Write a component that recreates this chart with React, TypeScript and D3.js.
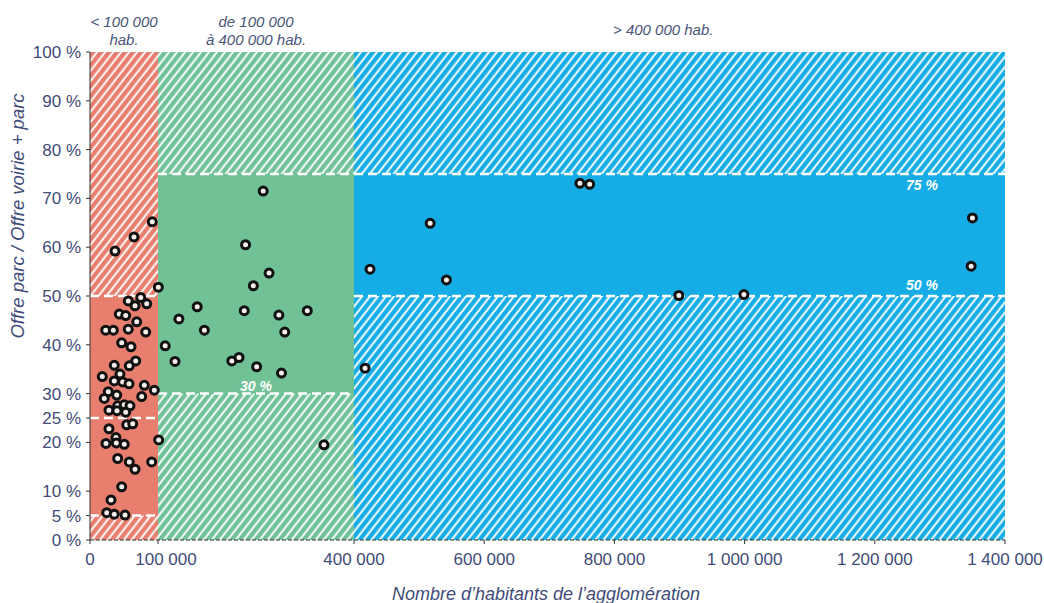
import React from "react";
import * as d3 from "d3";

// ---- Data ----
// population (habitants), share parc / (voirie + parc) in %
const redPoints: [number, number][] = [
  [36800, 59.2], [64700, 62.1], [91600, 65.2], [100500, 51.8],
  [56300, 49.0], [74600, 49.7], [66200, 48.0], [83400, 48.4],
  [43100, 46.3], [52500, 46.0], [68700, 44.7], [23100, 43.0],
  [34300, 43.0], [56300, 43.2], [81900, 42.6], [46600, 40.4],
  [60300, 39.6], [67200, 36.7], [57800, 35.7], [35700, 35.8],
  [18100, 33.5], [44100, 34.0], [35700, 32.6], [48100, 32.4],
  [57400, 32.0], [79900, 31.7], [94600, 30.7], [26900, 30.4],
  [39300, 29.7], [76000, 29.4], [21000, 29.0], [40700, 27.5],
  [50400, 27.7], [58800, 27.5], [27900, 26.6], [39700, 26.5],
  [52500, 26.2], [27900, 22.8], [54000, 23.6], [62800, 23.8],
  [38200, 21.0], [23500, 19.8], [38700, 19.9], [50400, 19.6],
  [101000, 20.5], [40700, 16.7], [57800, 16.0], [66200, 14.5],
  [90700, 16.0], [46600, 10.9], [30900, 8.2], [24600, 5.6],
  [35700, 5.3], [51500, 5.1],
];
const greenPoints: [number, number][] = [
  [261000, 71.5], [234000, 60.5], [270000, 54.7], [246000, 52.1],
  [160000, 47.8], [232000, 47.0], [285000, 46.1], [328500, 47.0],
  [132000, 45.3], [171000, 43.0], [294000, 42.6], [111000, 39.8],
  [126000, 36.6], [213000, 36.7], [224000, 37.4], [251000, 35.5],
  [289000, 34.2], [354000, 19.5],
];
const bluePoints: [number, number][] = [
  [747000, 73.1], [762000, 72.9], [517000, 64.9], [424600, 55.5],
  [542000, 53.3], [417000, 35.2], [899000, 50.1], [999000, 50.3],
  [1350000, 66.0], [1348000, 56.1],
];

// zones: population bounds, solid band [low, high], dashed levels, label
const zoneNames = ["small", "medium", "large"];
const zoneBounds: [number, number][] = [[0, 100000], [100000, 400000], [400000, 1400000]];
const zoneBands: [number, number][] = [[5, 50], [30, 75], [50, 75]];
const zoneDashes: number[][] = [[5, 25, 50], [30, 75], [50, 75]];
const zoneColors = ["#e87e6e", "#70c196", "#16ade6"];
const zoneHeaders: string[][] = [["< 100 000", "hab."], ["de 100 000", "à 400 000 hab."], ["> 400 000 hab."]];
const bandLabels: { zone: number; value: number; text: string }[] = [
  { zone: 1, value: 30, text: "30 %" },
  { zone: 2, value: 75, text: "75 %" },
  { zone: 2, value: 50, text: "50 %" },
];

const yTicks = [0, 5, 10, 20, 25, 30, 40, 50, 60, 70, 80, 90, 100];
const xTicks = [0, 100000, 400000, 600000, 800000, 1000000, 1200000, 1400000];

const yTitle = "Offre parc / Offre voirie + parc";
const xTitle = "Nombre d’habitants de l’agglomération";

export default function App() {
  const W = 1044, H = 603;
  const x = d3.scaleLinear().domain([0, 100000, 400000, 1400000]).range([90, 158, 354, 1005]);
  const y = d3.scaleLinear().domain([0, 100]).range([540, 52]);
  const fmt = (v: number) => d3.format(",")(v).replace(/,/g, " ");
  const textCol = "#3f4b78";
  const font = "'Liberation Sans', Arial, sans-serif";
  const allPoints = [...redPoints, ...greenPoints, ...bluePoints];

  return (
    <svg width={W} height={H} style={{ position: "absolute", left: 0, top: 0, background: "#fff" }} fontFamily={font}>
      <defs>
        {zoneColors.map((c, i) => (
          <pattern key={i} id={`hatch-${i}`} patternUnits="userSpaceOnUse" width={6.3} height={20}
            patternTransform="rotate(38)">
            <rect width={6.3} height={20} fill={c} />
            <line x1={1.5} y1={-2} x2={1.5} y2={22} stroke="#fff" strokeWidth={1.9} />
          </pattern>
        ))}
      </defs>

      {/* zones */}
      {zoneBounds.map(([a, b], i) => {
        const x0 = x(a), x1 = x(b);
        const [lo, hi] = zoneBands[i];
        return (
          <g key={zoneNames[i]}>
            <rect x={x0} y={y(100)} width={x1 - x0} height={y(0) - y(100)} fill={`url(#hatch-${i})`} />
            <rect x={x0} y={y(hi)} width={x1 - x0} height={y(lo) - y(hi)} fill={zoneColors[i]} />
            {zoneDashes[i].map((v) => (
              <line key={v} x1={x0} x2={x1} y1={y(v)} y2={y(v)} stroke="#fff" strokeWidth={2.5}
                strokeDasharray="9 5" />
            ))}
          </g>
        );
      })}

      {/* band labels */}
      {bandLabels.map((l, i) => {
        const [a, b] = zoneBounds[l.zone];
        const cx = l.zone === 1 ? x(a) + 0.5 * (x(b) - x(a)) : x(b) - 83;
        const yy = l.value === 30 ? y(l.value) - 3 : l.value === 75 ? y(l.value) + 16 : y(l.value) - 6;
        return (
          <text key={i} x={cx} y={yy} textAnchor="middle" fill="#fff" fontStyle="italic" fontWeight="bold"
            fontSize={14}>{l.text}</text>
        );
      })}

      {/* axes */}
      <line x1={x(0)} x2={x(0)} y1={y(100)} y2={y(0)} stroke="#333" strokeWidth={1} />
      <line x1={x(0)} x2={x(1400000)} y1={y(0)} y2={y(0)} stroke="#333" strokeWidth={1} strokeDasharray="4 2" />
      {yTicks.map((t) => (
        <g key={t}>
          <line x1={x(0) - 4} x2={x(0)} y1={y(t)} y2={y(t)} stroke="#333" strokeWidth={1} />
          <text x={x(0) - 9} y={y(t) + 6} textAnchor="end" fill={textCol} fontSize={17}>{`${t} %`}</text>
        </g>
      ))}
      {xTicks.map((t) => (
        <g key={t}>
          <line x1={x(t)} x2={x(t)} y1={y(0)} y2={y(0) + 4} stroke="#333" strokeWidth={1} />
          <text x={x(t) + (t === 100000 ? 8 : 0)} y={y(0) + 25} textAnchor="middle" fill={textCol}
            fontSize={17}>{fmt(t)}</text>
        </g>
      ))}

      {/* headers */}
      {zoneHeaders.map((lines, i) => {
        const [a, b] = zoneBounds[i];
        const cx = i === 2 ? x(a) + 0.475 * (x(b) - x(a)) : (x(a) + x(b)) / 2;
        const startY = lines.length === 2 ? 27 : 35;
        return (
          <text key={i} textAnchor="middle" fill="#4a5578" fontStyle="italic" fontSize={15}>
            {lines.map((ln, j) => (
              <tspan key={j} x={cx} y={startY + j * 18}>{ln}</tspan>
            ))}
          </text>
        );
      })}

      {/* titles */}
      <text transform="translate(24, 216) rotate(-90)" textAnchor="middle"
        fill={textCol} fontStyle="italic" fontSize={18.5}>{yTitle}</text>
      <text x={546} y={600} textAnchor="middle" fill={textCol} fontStyle="italic" fontSize={18}>{xTitle}</text>

      {/* points */}
      {allPoints.map(([px, py], i) => (
        <circle key={i} cx={x(px)} cy={y(py)} r={4} fill="#f6eeea" stroke="#111" strokeWidth={3} />
      ))}
    </svg>
  );
}
